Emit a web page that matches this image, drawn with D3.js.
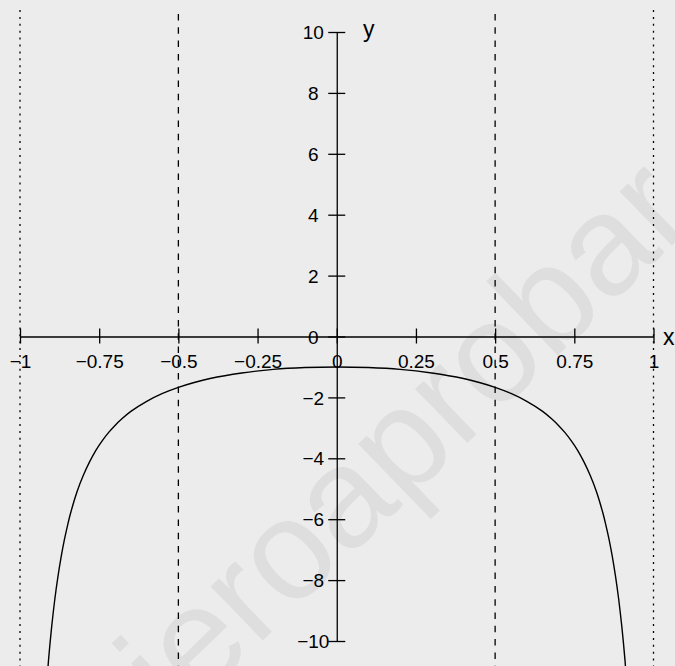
<!DOCTYPE html>
<html>
<head>
<meta charset="utf-8">
<script src="https://cdn.jsdelivr.net/npm/d3@7"></script>
<style>
  html, body { margin: 0; padding: 0; background: #ececec; }
  svg { display: block; font-family: 'Liberation Sans', Arial, sans-serif; }
</style>
</head>
<body>
<div id="chart"></div>
<script>
// curve points
const xValues = [-0.93, -0.92, -0.91, -0.9, -0.89, -0.88, -0.87, -0.86, -0.85, -0.84, -0.82, -0.8, -0.78, -0.76, -0.74, -0.72, -0.7, -0.68, -0.65, -0.6, -0.55, -0.5, -0.45, -0.4, -0.3, -0.2, -0.1,
                 0, 0.1, 0.2, 0.3, 0.4, 0.45, 0.5, 0.55, 0.6, 0.65, 0.68, 0.7, 0.72, 0.74, 0.76, 0.78, 0.8, 0.82, 0.84, 0.85, 0.86, 0.87, 0.88, 0.89, 0.9, 0.91, 0.92, 0.93];
const yValues = [-13.8, -12.02, -10.63, -9.53, -8.62, -7.87, -7.23, -6.68, -6.21, -5.79, -5.1, -4.56, -4.11, -3.73, -3.42, -3.15, -2.92, -2.72, -2.46, -2.13, -1.87, -1.67, -1.51, -1.38, -1.2, -1.08, -1.02,
                 -1.0, -1.02, -1.08, -1.2, -1.38, -1.51, -1.67, -1.87, -2.13, -2.46, -2.72, -2.92, -3.15, -3.42, -3.73, -4.11, -4.56, -5.1, -5.79, -6.21, -6.68, -7.23, -7.87, -8.62, -9.53, -10.63, -12.02, -13.8];

const xTicks = [-1, -0.75, -0.5, -0.25, 0, 0.25, 0.5, 0.75, 1];
const yTicks = [-10, -8, -6, -4, -2, 0, 2, 4, 6, 8, 10];
const dashedAt = [-0.5, 0.5];
const dottedAt = [-1, 1];

const width = 675, height = 666;

const svg = d3.select('#chart').append('svg')
    .attr('width', width)
    .attr('height', height);

svg.append('rect')
    .attr('width', width)
    .attr('height', height)
    .style('fill', '#ececec');

// faint watermark behind the plot
svg.append('text')
    .attr('transform', 'translate(355,500) rotate(-44)')
    .attr('text-anchor', 'middle')
    .attr('dy', '0.26em')
    .style('font-size', '142px')
    .style('fill', '#dedede')
    .text('quieroaprobar');

const x = d3.scaleLinear().domain([-1, 1]).range([20, 653.5]),
      y = d3.scaleLinear().domain([-10, 10]).range([641, 32]);

const fmt = d3.format('');

// guide lines
svg.append('g').selectAll('line')
    .data(dashedAt)
  .enter().append('line')
    .attr('x1', d => x(d)).attr('x2', d => x(d))
    .attr('y1', 14).attr('y2', height)
    .style('stroke', '#000')
    .style('stroke-width', 1.3)
    .style('stroke-dasharray', '6.5,6.8');

svg.append('g').selectAll('line')
    .data(dottedAt)
  .enter().append('line')
    .attr('x1', d => x(d)).attr('x2', d => x(d))
    .attr('y1', 10).attr('y2', height)
    .style('stroke', '#000')
    .style('stroke-width', 1.3)
    .style('stroke-dasharray', '2,4.9');

// x axis
const xAxis = svg.append('g')
    .attr('transform', 'translate(0,' + y(0) + ')')
    .call(d3.axisBottom(x).tickValues(xTicks).tickSizeOuter(0).tickFormat(fmt));

xAxis.selectAll('.tick line').attr('y1', -8).attr('y2', 7);
xAxis.selectAll('.tick text')
    .attr('y', 31).attr('dy', 0)
    .style('font-size', '19px')
    .style('fill', '#000');

// y axis
const yAxis = svg.append('g')
    .attr('transform', 'translate(' + x(0) + ',0)')
    .call(d3.axisLeft(y).tickValues(yTicks).tickSizeOuter(0).tickFormat(fmt));

yAxis.selectAll('.tick line').attr('x1', -8.5).attr('x2', 8.5);
yAxis.selectAll('.tick text')
    .attr('x', -23.5).attr('dy', '0.35em')
    .attr('text-anchor', 'middle')
    .style('font-size', '19px')
    .style('fill', '#000');

svg.selectAll('.domain, .tick line')
    .style('stroke', '#000')
    .style('stroke-width', 1.3);

svg.append('text')
    .attr('x', 663).attr('y', 345)
    .style('font-size', '23px')
    .text('x');

svg.append('text')
    .attr('x', 363).attr('y', 37)
    .style('font-size', '23px')
    .text('y');

// curve
svg.append('clipPath').attr('id', 'clip')
  .append('rect').attr('width', width).attr('height', height);

const line = d3.line()
    .x((d, i) => x(xValues[i]))
    .y(d => y(d))
    .curve(d3.curveCatmullRom.alpha(0.5));

svg.append('path')
    .datum(yValues)
    .attr('clip-path', 'url(#clip)')
    .attr('d', line)
    .style('fill', 'none')
    .style('stroke', '#000')
    .style('stroke-width', 1.4);
</script>
</body>
</html>
